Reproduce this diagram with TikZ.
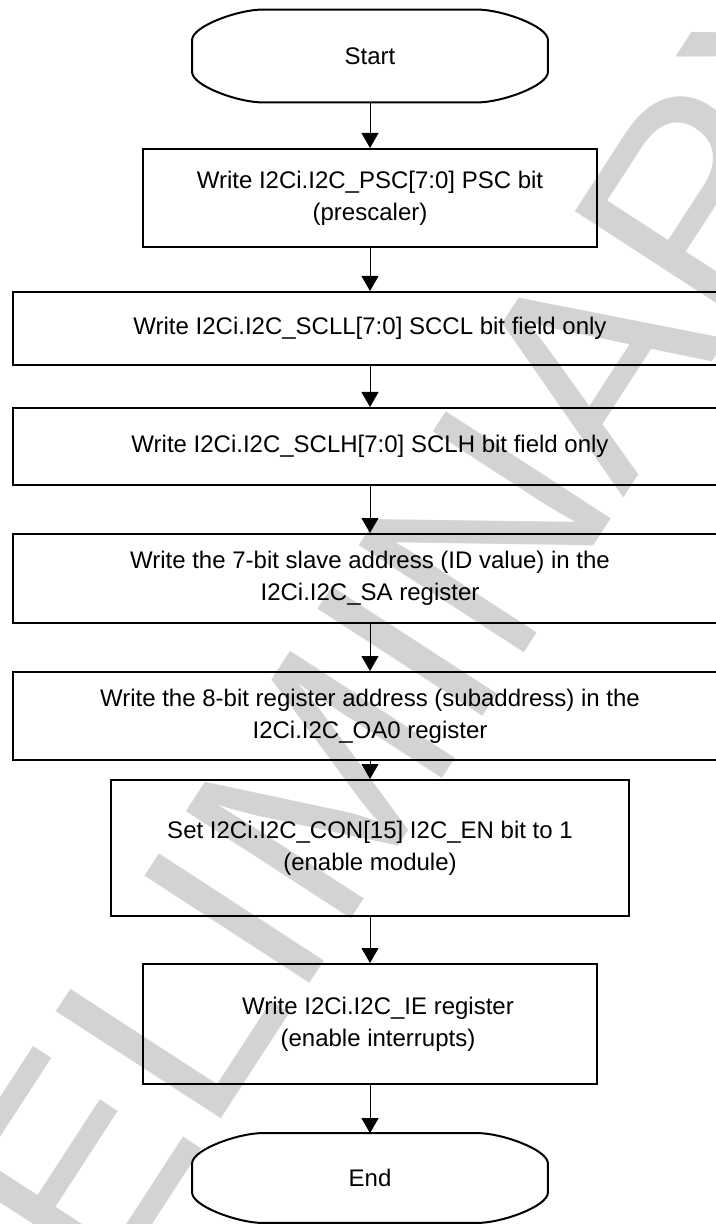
\documentclass[tikz,border=0pt]{standalone}
\usepackage{fontspec}
\setmainfont{Liberation Sans}
\usepackage{tikz}
\usetikzlibrary{arrows.meta,calc,positioning}
\definecolor{wmGray}{HTML}{D3D3D3}
\newcommand{\flowfont}{\fontsize{12}{15.8}\selectfont}
\tikzset{
  fproc/.style n args={2}{draw, line width=1pt, align=center, font=\flowfont,
        inner sep=0pt, minimum width=#1, minimum height=#2},
  fterm/.style={align=center, font=\flowfont, inner sep=0pt,
        minimum width=177.5pt, minimum height=#1},
  termline/.style={line width=1pt},
  flow/.style={-{Triangle[length=7.5pt,width=8.5pt]}, line width=0.5pt},
  wmark/.style={text=wmGray, font=\fontsize{143}{143}\selectfont, rotate=57,
        inner sep=0pt, anchor=base west},
}
\begin{document}
\begin{tikzpicture}[x=0.5pt, y=-0.5pt]
  \useasboundingbox (0,0) rectangle (716,1224);
  \clip (0,0) rectangle (716,1224);
  % watermark behind everything
  \node[wmark] (wm) at (-112,1632) {PRELIMINARY};
  % terminals
  \node[fterm=46pt]   (start) at (370,56)   {Start};
  \node[fterm=44.5pt] (end)   at (370,1178) {End};
  % process steps
  \node[fproc={227pt}{49pt}]     (psc)  at (370,198)  {Write I2Ci.I2C\_PSC[7:0] PSC bit\\(prescaler)};
  \node[fproc={357.5pt}{36.5pt}] (scll) at (370,328.5){Write I2Ci.I2C\_SCLL[7:0] SCCL bit field only};
  \node[fproc={357.5pt}{38.5pt}] (sclh) at (370,446.5){Write I2Ci.I2C\_SCLH[7:0] SCLH bit field only};
  \node[fproc={357.5pt}{44.5pt}] (sa)   at (370,578.5){Write the 7-bit slave address (ID value) in the\\I2Ci.I2C\_SA register};
  \node[fproc={357.5pt}{44pt}]   (oa)   at (370,716)  {Write the 8-bit register address (subaddress) in the\\I2Ci.I2C\_OA0 register};
  \node[fproc={259pt}{68pt}]     (con)  at (370,848)  {Set I2Ci.I2C\_CON[15] I2C\_EN bit to 1\\(enable module)};
  \node[fproc={227pt}{60pt}]     (ie)   at (370,1024) {\hspace*{8pt}Write I2Ci.I2C\_IE register\\\hspace*{8pt}(enable interrupts)};
  % terminal outlines
  \foreach \t in {start,end}{
    \draw[termline] ($(\t.north west)+(70,0)$) -- ($(\t.north east)+(-70,0)$)
      .. controls ($(\t.north east)+(-47,0)$) and ($(\t.north east)+(-1,16)$) .. ($(\t.north east)+(0,30)$)
      -- ($(\t.south east)+(0,-30)$)
      .. controls ($(\t.south east)+(-1,-16)$) and ($(\t.south east)+(-47,0)$) .. ($(\t.south east)+(-70,0)$)
      -- ($(\t.south west)+(70,0)$)
      .. controls ($(\t.south west)+(47,0)$) and ($(\t.south west)+(1,-16)$) .. ($(\t.south west)+(0,-30)$)
      -- ($(\t.north west)+(0,30)$)
      .. controls ($(\t.north west)+(1,16)$) and ($(\t.north west)+(47,0)$) .. cycle;
  }
  % connectors
  \draw[flow] (start) -- (psc);
  \draw[flow] (psc) -- (scll);
  \draw[flow] (scll) -- (sclh);
  \draw[flow] (sclh) -- (sa);
  \draw[flow] (sa) -- (oa);
  \draw[flow] (oa) -- (con);
  \draw[flow] (con) -- (ie);
  \draw[flow] (ie) -- (end);
\end{tikzpicture}
\end{document}
